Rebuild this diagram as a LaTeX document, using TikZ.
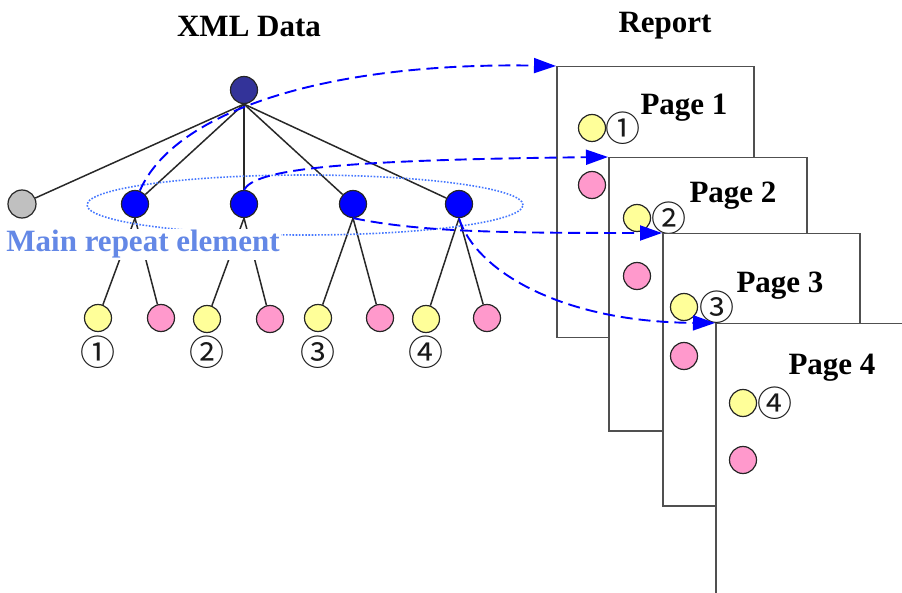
\documentclass[tikz,border=0pt]{standalone}
\usepackage{fontspec}
\setmainfont{Liberation Serif}
\newfontfamily\circfont{Noto Sans CJK JP}
\usetikzlibrary{arrows.meta,backgrounds}

\definecolor{rootblue}{RGB}{51,51,153}
\definecolor{elemblue}{RGB}{0,0,255}
\definecolor{leafyellow}{RGB}{255,255,153}
\definecolor{leafpink}{RGB}{255,153,204}
\definecolor{leafgray}{RGB}{192,192,192}
\definecolor{labelblue}{RGB}{100,136,230}
\definecolor{ringblue}{RGB}{70,120,255}
\definecolor{edgegray}{RGB}{40,40,40}
\definecolor{framegray}{RGB}{80,80,80}

\begin{document}
\begin{tikzpicture}[x=1pt,y=-1pt,
  dot/.style={circle,draw=black!85,line width=1.2pt,inner sep=0pt,minimum size=27pt},
  rootdot/.style={dot,fill=rootblue},
  elemdot/.style={dot,fill=elemblue},
  ydot/.style={dot,fill=leafyellow},
  pdot/.style={dot,fill=leafpink},
  circnum/.style={font=\circfont\fontsize{35}{37}\selectfont,inner sep=0pt,text=black!90},
  heading/.style={font=\bfseries\fontsize{31}{36}\selectfont,anchor=base,inner sep=0pt},
  pagebox/.style={draw=framegray,line width=1.5pt,fill=white,anchor=north west,inner sep=0pt},
  edge/.style={draw=edgegray,line width=1.5pt},
  ring/.style={draw=ringblue,line width=1.6pt,dash pattern=on 1.6pt off 1.6pt},
  flow/.style={draw=elemblue,line width=1.9pt,dash pattern=on 12pt off 6pt,
    -{Triangle[length=22pt,width=15pt]}}
]
\useasboundingbox (0,0) rectangle (902,593);
\clip (0,0) rectangle (902,593);

% headings
\node[heading] (xml) at (249,37) {XML Data};
\node[heading] (report) at (665,33) {Report};

% XML tree
\node[rootdot] (root) at (244,90) {};
\node[dot,fill=leafgray,minimum size=28pt] (other) at (22,204) {};
\node[elemdot] (e1) at (135,204) {};
\node[elemdot] (e2) at (244,204) {};
\node[elemdot] (e3) at (353,204) {};
\node[elemdot] (e4) at (459,204) {};

\node[ydot] (ly1) at (98,318) {};
\node[pdot] (lp1) at (161,318) {};
\node[ydot] (ly2) at (207,319) {};
\node[pdot] (lp2) at (270,319) {};
\node[ydot] (ly3) at (318,318) {};
\node[pdot] (lp3) at (380,318) {};
\node[ydot] (ly4) at (426,319) {};
\node[pdot] (lp4) at (487,318) {};

\node[circnum] (c1) at (98,352) {①};
\node[circnum] (c2) at (207,352) {②};
\node[circnum] (c3) at (318,352) {③};
\node[circnum] (c4) at (426,352) {④};

\begin{scope}[on background layer]
  \draw[edge] (root.south) -- (other);
  \draw[edge] (root.south) -- (e1);
  \draw[edge] (root.south) -- (e2);
  \draw[edge] (root.south) -- (e3);
  \draw[edge] (root.south) -- (e4);
  \draw[edge] (e1.south) -- (ly1);
  \draw[edge] (e1.south) -- (lp1);
  \draw[edge] (e2.south) -- (ly2);
  \draw[edge] (e2.south) -- (lp2);
  \draw[edge] (e3.south) -- (ly3);
  \draw[edge] (e3.south) -- (lp3);
  \draw[edge] (e4.south) -- (ly4);
  \draw[edge] (e4.south) -- (lp4);
  % the repeating elements
  \draw[ring] (305,205) ellipse [x radius=218pt, y radius=30pt];
\end{scope}

\node[font=\bfseries\fontsize{31}{36}\selectfont,text=labelblue,fill=white,
  inner sep=1.5pt,anchor=base] (mre) at (143,252) {Main repeat element};

% report pages
\node[pagebox,minimum width=197pt,minimum height=271pt] (pg1) at (556,66) {};
\node[ydot] (a1) at (592,128) {};
\node[circnum] (n1) at (623,128) {①};
\node[pdot] (b1) at (592,185) {};
\node[heading] (t1) at (684,115) {Page 1};

\node[pagebox,minimum width=198pt,minimum height=273pt] (pg2) at (608,157) {};
\node[ydot] (a2) at (637,218) {};
\node[circnum] (n2) at (669,218) {②};
\node[pdot] (b2) at (637,276) {};
\node[heading] (t2) at (733,203) {Page 2};

\node[pagebox,minimum width=197pt,minimum height=272pt] (pg3) at (662,233) {};
\node[ydot] (a3) at (684,307) {};
\node[circnum] (n3) at (717,307) {③};
\node[pdot] (b3) at (684,356) {};
\node[heading] (t3) at (780,293) {Page 3};

\node[pagebox,minimum width=260pt,minimum height=320pt] (pg4) at (715,323) {};
\node[ydot] (a4) at (743,403) {};
\node[circnum] (n4) at (775,403) {④};
\node[pdot] (b4) at (743,460) {};
\node[heading] (t4) at (832,374) {Page 4};

% each repeat element goes to its own page
\draw[flow] (e1.70) .. controls (175,110) and (330,62) .. (pg1.north west);
\draw[flow] (e2.north) .. controls (255,170) and (330,160) .. (pg2.north west);
\draw[flow] (e3.south) .. controls (420,232) and (500,233) .. (pg3.north west);
\draw[flow] (e4.south) .. controls (475,270) and (560,322) .. (pg4.north west);
\end{tikzpicture}
\end{document}
